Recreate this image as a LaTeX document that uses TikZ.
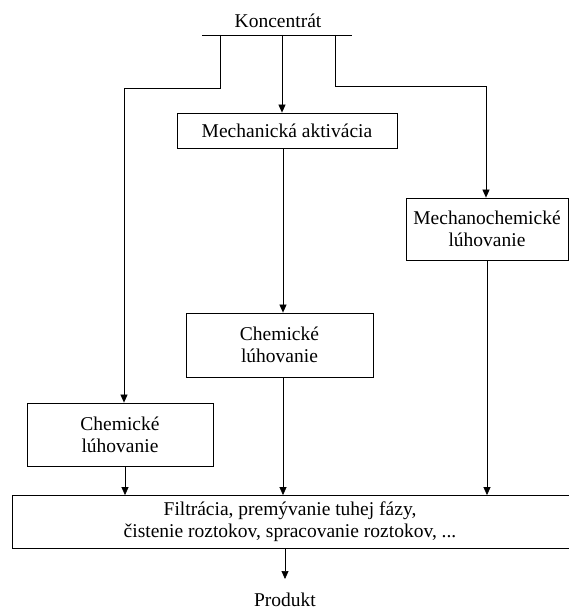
\documentclass[tikz,border=0pt]{standalone}
\usepackage{fontspec}
\setmainfont{Liberation Serif}
\usetikzlibrary{arrows.meta}
\begin{document}
\begin{tikzpicture}[x=1pt,y=-1pt,
  box/.style={draw, line width=0.8pt, inner sep=0pt, align=center,
    font=\fontsize{19.5}{22}\selectfont},
  lbl/.style={inner sep=0pt, font=\fontsize{19.5}{22}\selectfont},
  conn/.style={line width=0.7pt},
  arr/.style={line width=0.7pt, -{Triangle[length=8pt,width=7pt]}}]
\useasboundingbox (0,0) rectangle (569,612);
\begin{scope}
\clip (0,0) rectangle (569,612);
\node[lbl] (kon) at (278,21) {Koncentrát};
\coordinate (b1) at (202,35);
\coordinate (b2) at (352,35);
\draw[conn] (b1) -- (b2);

\node[box, minimum width=220, minimum height=35] (mech) at (287,130.5) {Mechanická aktivácia};
\node[box, minimum width=187, minimum height=64] (chm) at (279.5,345) {Chemické\\lúhovanie};
\node[box, minimum width=186, minimum height=63] (chl) at (120,434.5) {Chemické\\lúhovanie};
\node[box, minimum width=162, minimum height=62] (mcl) at (487,229) {Mechanochemické\\lúhovanie};
\node[box, minimum width=563, minimum height=53] (fil) at (293.5,522) {\hspace*{-7pt}Filtrácia, premývanie tuhej fázy,\\\hspace*{-7pt}čistenie roztokov, spracovanie roztokov, ...};
\node[lbl] (prod) at (285,600) {Produkt};

% branches from the bar
\coordinate (lt) at (220,35);
\coordinate (lc) at (220,88);
\coordinate (ld) at (124,88);
\draw[arr] (lt) -- (lc) -- (ld) -- (ld |- chl.north);
\coordinate (mt) at (282,35);
\draw[arr] (mt) -- (mt |- mech.north);
\coordinate (rt) at (335,35);
\coordinate (rc) at (335,86);
\coordinate (rd) at (486,86);
\draw[arr] (rt) -- (rc) -- (rd) -- (rd |- mcl.north);

% middle chain
\coordinate (mx) at (283,0);
\draw[arr] (mx |- mech.south) -- (mx |- chm.north);
\draw[arr] (mx |- chm.south) -- (mx |- fil.north);
\coordinate (lx) at (125,0);
\draw[arr] (lx |- chl.south) -- (lx |- fil.north);
\coordinate (rx) at (487,0);
\draw[arr] (rx |- mcl.south) -- (rx |- fil.north);
\coordinate (pe) at (285,579);
\draw[arr] (pe |- fil.south) -- (pe);
\end{scope}
\end{tikzpicture}
\end{document}
